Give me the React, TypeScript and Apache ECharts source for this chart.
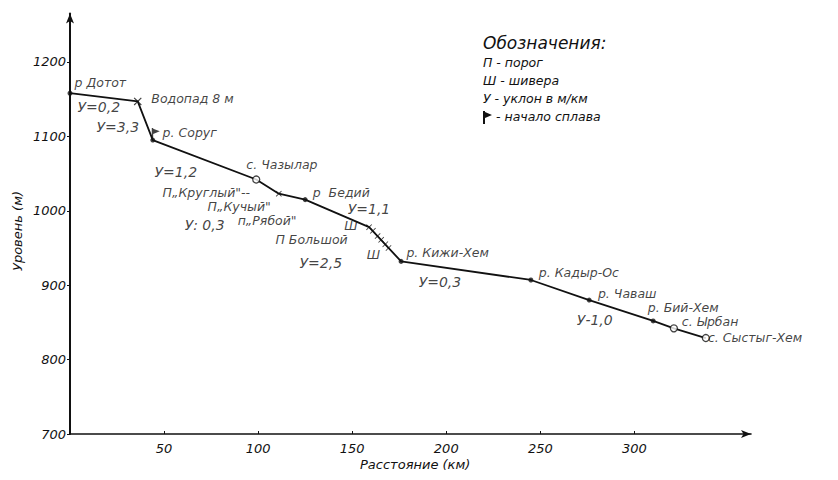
import React, { useEffect, useRef } from "react";
import * as echarts from "echarts";

// Axis ticks
const xTicks = [50, 100, 150, 200, 250, 300];
const yTicks = [700, 800, 900, 1000, 1100, 1200];

// River profile (distance km, level m)
const profileKm = [0, 36, 44, 99, 111, 125, 159, 176, 245, 276, 310, 321, 338];
const profileLevel = [1158, 1147, 1095, 1042, 1023, 1015, 978, 932, 907, 880, 852, 842, 829];

// Tributary mouths (filled dots)
const mouthKm = [0, 44, 125, 176, 245, 276, 310];
const mouthLevel = [1158, 1095, 1015, 932, 907, 880, 852];

// Villages (open circles)
const villageKm = [99, 321, 338];
const villageLevel = [1042, 842, 829];

// Rapids / riffles (cross marks)
const rapidsKm = [111, 159, 161, 163.5, 165.4, 167.6, 169.3];
const rapidsLevel = [1023, 978, 973, 966, 961, 955, 950];

// Waterfall and start of rafting
const waterfallKm = [36];
const waterfallLevel = [1147];
const startKm = [44];
const startLevel = [1095];

// Annotation texts and their anchors in data coordinates
const noteTexts = [
  "р Дотот", "Водопад 8 м", "У=0,2", "У=3,3", "р. Соруг", "У=1,2", "с. Чазылар",
  "П„Круглый\"--", "П„Кучый\"", "У: 0,3", "п„Рябой\"", "р  Бедий", "У=1,1", "Ш",
  "П Большой", "Ш", "У=2,5", "р. Кижи-Хем", "У=0,3", "р. Кадыр-Ос", "р. Чаваш",
  "У-1,0", "р. Бий-Хем", "с. Ырбан", "с. Сыстыг-Хем",
];
const noteKm = [
  2.7, 43.5, 4.3, 14.4, 49.5, 45.2, 94, 49.5, 73.4, 61.2, 89.4, 129.3, 147.9, 146,
  109.5, 158, 122.3, 179.1, 185.6, 249.5, 280.9, 269.7, 307.4, 325.5, 339.4,
];
const noteLevel = [
  1171.4, 1150.3, 1138.2, 1111.3, 1104.6, 1050.8, 1061.6, 1023.9, 1005.5, 979.6, 986.6,
  1024.3, 1001.1, 979.5, 960.8, 940.6, 928.5, 943.7, 903.4, 916.4, 888.2, 853.2, 869.0,
  850.9, 828.6,
];

const legendTitle = "Обозначения:";
const legendItems = ["П - порог", "Ш - шивера", "У - уклон в м/км", " - начало сплава"];

const FONT = "'DejaVu Sans', sans-serif";
const INK = "#111111";

const crossPath =
  "path://M0,1 L1,0 L5,4 L9,0 L10,1 L6,5 L10,9 L9,10 L5,6 L1,10 L0,9 L4,5 Z";
const flagPath = "path://M0,0 L1.4,0 L1.4,0.6 L8,3.2 L1.4,5.8 L1.4,12 L0,12 Z";

const zip = (a: number[], b: number[]) => a.map((v, i) => [v, b[i]]);

export default function App() {
  const ref = useRef<HTMLDivElement>(null);
  useEffect(() => {
    if (!ref.current) return;
    const chart = echarts.init(ref.current, undefined, { renderer: "svg" });

    const notes = noteTexts.map((t, i) => ({
      name: t,
      value: [noteKm[i], noteLevel[i]],
      label: { fontSize: t.startsWith("У") ? 14 : 12.5 },
    }));

    const legendGraphics: any[] = [
      {
        type: "text",
        left: 483,
        top: 34,
        style: { text: legendTitle, font: `italic 17px ${FONT}`, fill: INK },
      },
      ...legendItems.map((t, i) => ({
        type: "text",
        left: i === 3 ? 492 : 483,
        top: 56 + i * 18,
        style: { text: t, font: `italic 12.5px ${FONT}`, fill: INK },
      })),
      {
        type: "polygon",
        shape: {
          points: [
            [483, 111], [485, 111], [485, 112], [492, 115], [485, 118], [485, 124], [483, 124],
          ],
        },
        style: { fill: INK },
      },
      {
        type: "text",
        left: 360,
        top: 458,
        style: { text: "Расстояние (км)", font: `italic 13px ${FONT}`, fill: INK },
      },
      {
        type: "text",
        x: 17,
        y: 231,
        rotation: Math.PI / 2,
        style: {
          text: "Уровень (м)",
          font: `italic 13px ${FONT}`,
          fill: INK,
          align: "center",
          verticalAlign: "middle",
        },
      },
    ];

    chart.setOption({
      animation: false,
      backgroundColor: "#ffffff",
      grid: { left: 70, right: 87, top: 13.6, bottom: 46 },
      xAxis: {
        type: "value",
        min: 0,
        max: 362,
        interval: 50,
        axisLine: {
          lineStyle: { color: INK, width: 1.6 },
          symbol: ["none", "arrow"],
          symbolSize: [6, 10],
        },
        axisTick: {
          show: true,
          inside: true,
          length: 3,
          customValues: xTicks,
          lineStyle: { color: INK },
        },
        axisLabel: {
          customValues: xTicks,
          formatter: (v: number) => String(v),
          color: INK,
          fontFamily: FONT,
          fontStyle: "italic",
          fontSize: 13,
          margin: 8,
        },
        splitLine: { show: false },
      },
      yAxis: {
        type: "value",
        min: 700,
        max: 1265,
        interval: 100,
        axisLine: {
          show: true,
          lineStyle: { color: INK, width: 2 },
          symbol: ["none", "arrow"],
          symbolSize: [6, 10],
        },
        axisTick: {
          show: true,
          length: 3,
          customValues: yTicks,
          lineStyle: { color: INK },
        },
        axisLabel: {
          customValues: yTicks,
          formatter: (v: number) => String(v),
          color: INK,
          fontFamily: FONT,
          fontStyle: "italic",
          fontSize: 13,
          margin: 4,
        },
        splitLine: { show: false },
      },
      graphic: legendGraphics,
      series: [
        {
          type: "line",
          data: zip(profileKm, profileLevel),
          symbol: "none",
          lineStyle: { color: INK, width: 1.8 },
          z: 2,
        },
        {
          type: "scatter",
          data: zip(mouthKm, mouthLevel),
          symbol: "circle",
          symbolSize: 5,
          itemStyle: { color: INK },
          z: 3,
        },
        {
          type: "scatter",
          data: zip(villageKm, villageLevel),
          symbol: "circle",
          symbolSize: 7,
          itemStyle: { color: "#ffffff", borderColor: INK, borderWidth: 1.3 },
          z: 4,
        },
        {
          type: "scatter",
          data: zip(rapidsKm, rapidsLevel),
          symbol: crossPath,
          symbolSize: 6,
          itemStyle: { color: INK },
          z: 3,
        },
        {
          type: "scatter",
          data: zip(waterfallKm, waterfallLevel),
          symbol: crossPath,
          symbolSize: 8,
          itemStyle: { color: INK },
          z: 3,
        },
        {
          type: "scatter",
          data: zip(startKm, startLevel),
          symbol: flagPath,
          symbolSize: [8, 12],
          symbolOffset: [3, -6],
          itemStyle: { color: INK },
          z: 3,
        },
        {
          type: "scatter",
          data: notes,
          symbol: "circle",
          symbolSize: 1,
          itemStyle: { color: "rgba(0,0,0,0)" },
          label: {
            show: true,
            position: [0, 0],
            align: "left",
            verticalAlign: "middle",
            formatter: (p: any) => p.name,
            color: INK,
            fontFamily: FONT,
            fontStyle: "italic",
          },
          z: 5,
        },
      ],
    });
    return () => chart.dispose();
  }, []);

  return (
    <div
      ref={ref}
      style={{ position: "fixed", left: 0, top: 0, width: 838, height: 480, background: "#fff" }}
    />
  );
}
